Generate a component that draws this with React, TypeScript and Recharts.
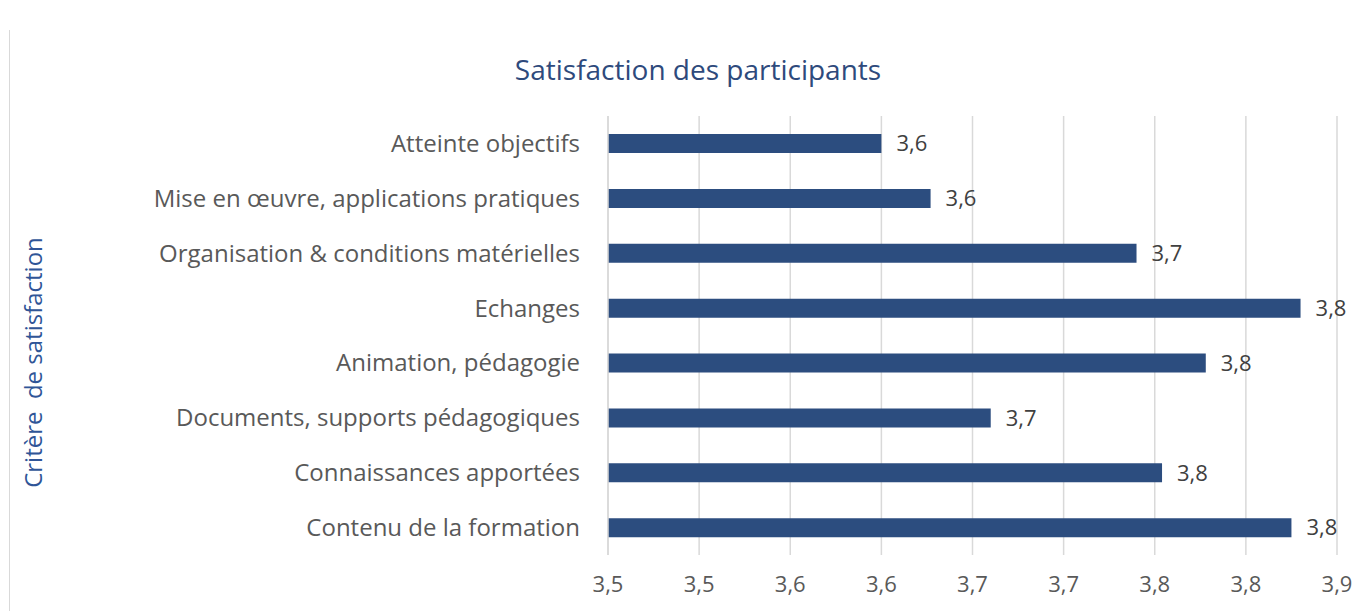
import { Bar, BarChart, CartesianGrid, LabelList, XAxis, YAxis } from 'recharts'

const criteria = [
  'Atteinte objectifs',
  'Mise en œuvre, applications pratiques',
  'Organisation & conditions matérielles',
  'Echanges',
  'Animation, pédagogie',
  'Documents, supports pédagogiques',
  'Connaissances apportées',
  'Contenu de la formation',
]

const scores = [3.6, 3.627, 3.74, 3.83, 3.778, 3.66, 3.754, 3.825]

const xTicks = [3.45, 3.5, 3.55, 3.6, 3.65, 3.7, 3.75, 3.8, 3.85]

const data = criteria.map((name, i) => ({ name, score: scores[i] }))

const FONT = '"Open Sans", Lato, sans-serif'

// Excel-style one-decimal with a comma (half rounds up)
const fmt = (v: number) => (Math.round(v * 10 + 1e-6) / 10).toFixed(1).replace('.', ',')

function AxisTitle({ viewBox }: { viewBox?: { x: number; y: number; width: number; height: number } }) {
  if (!viewBox) return null
  const cy = viewBox.y + viewBox.height / 2 + 27
  return (
    <text
      x={42}
      y={cy}
      transform={`rotate(-90, 42, ${cy})`}
      textAnchor="middle"
      fill="#2F5597"
      fontSize={24}
      fontFamily={FONT}
      style={{ whiteSpace: 'pre' }}
    >
      {'Critère  de satisfaction'}
    </text>
  )
}

export default function App() {
  return (
    <div style={{ position: 'absolute', left: 0, top: 0, width: 1354, height: 611, background: '#fff', fontFamily: FONT }}>
      <div style={{ position: 'absolute', left: 9, top: 30, bottom: 0, borderLeft: '1px solid #d9d9d9' }} />
      <div
        style={{
          position: 'absolute',
          left: 698,
          top: 50,
          transform: 'translateX(-50%)',
          whiteSpace: 'nowrap',
          fontSize: 28,
          color: '#2E4A7C',
          lineHeight: '38px',
        }}
      >
        Satisfaction des participants
      </div>
      <BarChart
        width={1354}
        height={611}
        data={data}
        layout="vertical"
        margin={{ top: 116, right: 17, bottom: 26, left: 0 }}
        barCategoryGap={0}
      >
        <CartesianGrid stroke="#d9d9d9" strokeWidth={1.5} horizontal={false} />
        <XAxis
          type="number"
          domain={[3.45, 3.85]}
          ticks={xTicks}
          tickFormatter={fmt}
          axisLine={false}
          tickLine={false}
          tickSize={0}
          tickMargin={21}
          height={30}
          tick={{ fill: '#595959', fontSize: 22, fontFamily: FONT }}
          allowDataOverflow
        />
        <YAxis
          type="category"
          dataKey="name"
          width={608}
          axisLine={{ stroke: '#d9d9d9', strokeWidth: 1.5 }}
          tickLine={false}
          tickSize={0}
          tickMargin={28}
          interval={0}
          tick={{ fill: '#595959', fontSize: 24, fontFamily: FONT }}
          label={<AxisTitle />}
        />
        <Bar dataKey="score" fill="#2C4D7F" barSize={19} isAnimationActive={false}>
          <LabelList
            dataKey="score"
            position="right"
            offset={15}
            formatter={(v: number) => fmt(v)}
            style={{ fill: '#404040', fontSize: 22, fontFamily: FONT }}
          />
        </Bar>
      </BarChart>
    </div>
  )
}
